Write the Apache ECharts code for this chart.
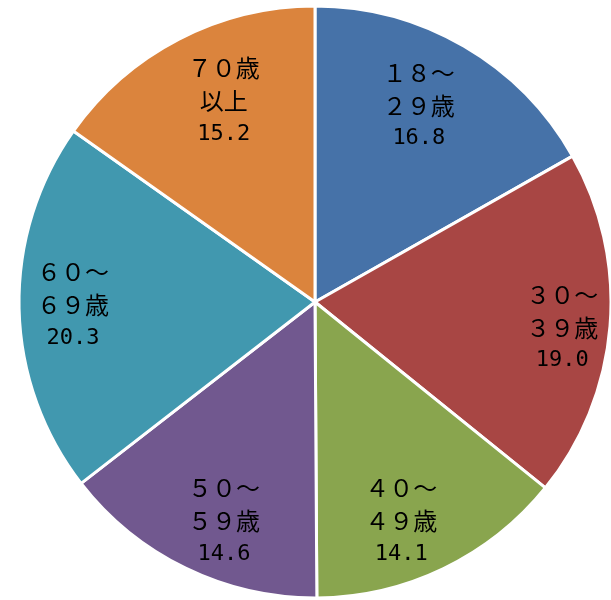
<!DOCTYPE html>
<html><head><meta charset="utf-8">
<script src="https://cdn.jsdelivr.net/npm/echarts@6/dist/echarts.min.js"></script>
<style>html,body{margin:0;padding:0;background:#fff}#c{width:611px;height:600px}</style>
</head><body><div id="c"></div>
<script>
const categories = ['１８～\n２９歳', '３０～\n３９歳', '４０～\n４９歳', '５０～\n５９歳', '６０～\n６９歳', '７０歳\n以上'];
const values = [16.8, 19.0, 14.1, 14.6, 20.3, 15.2];
const colors = ['#4672A8', '#A84644', '#89A54E', '#71588F', '#4198AF', '#DB843D'];
const labelOffsets = [[-17, 11], [8, 6], [-18, 3], [14, 3], [-2, -2], [19, 12]];

const chart = echarts.init(document.getElementById('c'));
const base = categories.map((c, i) => ({ name: c, value: values[i] }));
const labelData = categories.map((c, i) => ({ name: c, value: values[i], label: { offset: labelOffsets[i] } }));
chart.setOption({
  animation: false,
  color: colors,
  series: [
    {
      type: 'pie', center: [315, 302], radius: 296, startAngle: 90, clockwise: true,
      data: base, label: { show: false }, labelLine: { show: false },
      itemStyle: { borderColor: '#fff', borderWidth: 3 }, silent: true
    },
    {
      type: 'pie', center: [315, 302], radius: [178, 296], startAngle: 90, clockwise: true,
      data: labelData,
      itemStyle: { color: 'transparent', borderWidth: 0 },
      labelLine: { show: false },
      label: {
        show: true, position: 'inside', color: '#000',
        fontFamily: '"Noto Sans CJK JP", sans-serif', fontSize: 24, lineHeight: 33,
        formatter: p => p.name + '\n{n|' + p.value.toFixed(1) + '}',
        rich: { n: { fontFamily: '"DejaVu Sans Mono", monospace', fontSize: 22, lineHeight: 33, color: '#000' } }
      },
      silent: true
    }
  ]
});
</script></body></html>
